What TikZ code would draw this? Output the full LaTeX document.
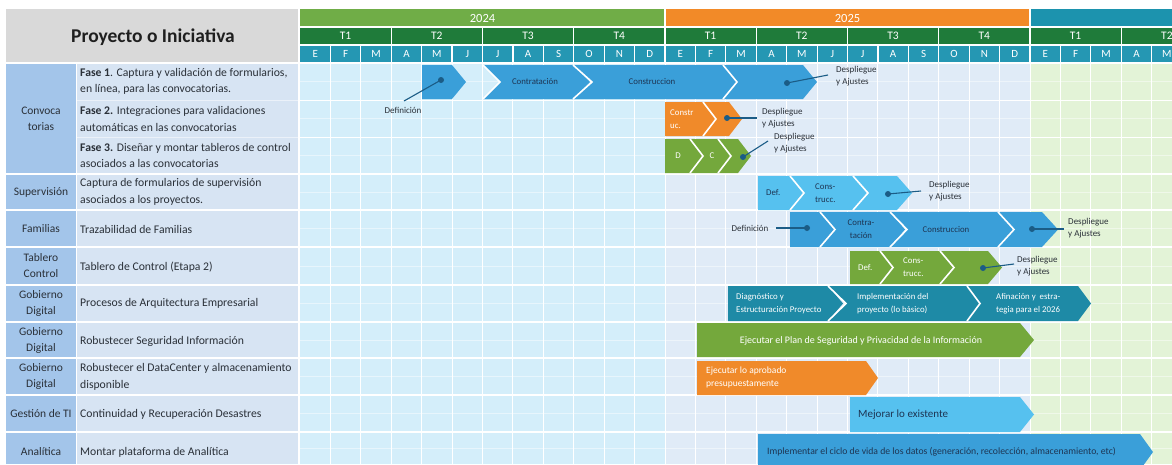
\documentclass[tikz,border=0pt]{standalone}
\usepackage{fontspec}
\setmainfont{Carlito}
\definecolor{yA}{HTML}{70AD47}
\definecolor{yB}{HTML}{F28A28}
\definecolor{yC}{HTML}{1C93AE}
\definecolor{qrow}{HTML}{1F7B3A}
\definecolor{mrow}{HTML}{2597B3}
\definecolor{hgrey}{HTML}{D9D9D9}
\definecolor{catc}{HTML}{A3C5EA}
\definecolor{descc}{HTML}{D7E4F3}
\definecolor{gA}{HTML}{D4EEFA}
\definecolor{gB}{HTML}{E0EBF7}
\definecolor{gC}{HTML}{E3F3D7}
\definecolor{bBlue}{HTML}{3A9FD9}
\definecolor{bLight}{HTML}{56C1EF}
\definecolor{bTeal}{HTML}{1E8AA6}
\definecolor{bGreen}{HTML}{74A83C}
\definecolor{bOrange}{HTML}{F08A2A}
\definecolor{dotc}{HTML}{1B5C86}
\definecolor{txt}{HTML}{2A3038}
\definecolor{btxt}{HTML}{1E3553}
\newcommand\segF[6]{\fill[#1] (#2,#5) -- (#3,#5) -- (#4,{(#5+#6)/2}) -- (#3,#6) -- (#2,#6) -- cycle;}
\newcommand\segN[6]{\fill[#1] (#2,#5) -- (#3,#5) -- (#4,{(#5+#6)/2}) -- (#3,#6) -- (#2,#6) -- ({#2+#4-#3},{(#5+#6)/2}) -- cycle;
  \draw[white,line width=1.6pt] (#2,#5) -- ({#2+#4-#3},{(#5+#6)/2}) -- (#2,#6);}
\tikzset{
  cat/.style={font=\fontsize{11.5}{16}\selectfont, text=txt, align=center},
  desc/.style={font=\fontsize{11.7}{16.5}\selectfont, text=txt, align=left, anchor=west, inner sep=0pt},
  hd/.style={font=\fontsize{12.5}{14}\selectfont, text=white},
  bt/.style={font=\fontsize{8.8}{12.8}\selectfont, text=white, align=left, inner sep=0pt},
  btd/.style={font=\fontsize{8.8}{12.8}\selectfont, text=btxt, align=left, inner sep=0pt},
  lbl/.style={font=\fontsize{9}{12}\selectfont, text=txt, align=left, inner sep=0pt},
  dot/.style={circle, fill=dotc, inner sep=0pt, minimum size=6pt},
  callout/.style={draw=dotc, line width=1.1pt},
  sep/.style={white, line width=1.2pt}
}
\begin{document}
\begin{tikzpicture}[x=1pt,y=-1pt]
\useasboundingbox (0,0) rectangle (1172,464);
\clip (0,0) rectangle (1172,464);
% ---------- header ----------
\fill[hgrey] (6,9) rectangle (298,63);
\node[font=\fontsize{19.5}{22}\selectfont\bfseries, text=black!88] (title) at (153,37) {Proyecto o Iniciativa};
\fill[yA] (300,9) rectangle (665,27);
\fill[yB] (665,9) rectangle (1030,27);
\fill[yC] (1030,9) rectangle (1172,27);
\node[hd] (y24) at (482.5,18) {2024};
\node[hd] (y25) at (847.5,18) {2025};
\fill[qrow] (300,27) rectangle (1172,45);
\fill[mrow] (300,45) rectangle (1172,63);
\foreach \q [count=\i from 0] in {T1,T2,T3,T4,T1,T2,T3,T4,T1,T2}
  \node[hd, font=\fontsize{11.5}{13}\selectfont] (q\i) at ({300+91.25*\i+45.6},36) {\q};
\foreach \m [count=\i from 0] in {E,F,M,A,M,J,J,A,S,O,N,D,E,F,M,A,M,J,J,A,S,O,N,D,E,F,M,A,M}
  \node[hd, font=\fontsize{11}{13}\selectfont] (m\i) at ({300+30.417*\i+15.2},54) {\m};
\foreach \i in {1,...,28} \draw[sep] ({300+30.417*\i},45) -- ({300+30.417*\i},63);
\foreach \i in {1,...,9} \draw[sep] ({300+91.25*\i},27) -- ({300+91.25*\i},45);
\draw[sep] (665,9) -- (665,27);
\draw[sep] (1030,9) -- (1030,27);
\draw[sep] (300,27) -- (1172,27);
\draw[sep] (300,45) -- (1172,45);
% ---------- body backgrounds ----------
\fill[catc] (6,63) rectangle (76,464);
\fill[descc] (77,63) rectangle (298,464);
\fill[gA] (300,63) rectangle (665,464);
\fill[gB] (665,63) rectangle (1030,464);
\fill[gC] (1030,63) rectangle (1172,464);
\foreach \i in {1,...,28} \draw[white, line width=0.9pt] ({300+30.417*\i},63) -- ({300+30.417*\i},464);
\foreach \y in {81.5,118.5,155.5,192,228.5,266,303.5,340,376.5,413.5,448}
  \draw[white, opacity=0.45, line width=0.5pt] (300,\y) -- (1172,\y);
\foreach \y in {100,137} \draw[white, line width=0.9pt] (300,\y) -- (1172,\y);
\foreach \y in {63,174,210,247,285,322,358,395,432} \draw[white, line width=1.2pt] (6,\y) -- (1172,\y);
\foreach \y in {100,137} \draw[white, opacity=0.5, line width=0.6pt] (77,\y) -- (298,\y);
\draw[white, line width=1.2pt] (76.5,63) -- (76.5,464);
\draw[white, line width=1.5pt] (299,63) -- (299,464);
% ---------- left columns ----------
\node[cat] (c1) at (41,119) {Convoca\\torias};
\node[cat] (c2) at (41,192) {Supervisión};
\node[cat] (c3) at (41,229) {Familias};
\node[cat] (c4) at (41,266) {Tablero\\Control};
\node[cat] (c5) at (41,303) {Gobierno\\Digital};
\node[cat] (c6) at (41,340) {Gobierno\\Digital};
\node[cat] (c7) at (41,376.5) {Gobierno\\Digital};
\node[cat] (c8) at (41,413.5) {Gestión de TI};
\node[cat] (c9) at (41,452) {Analítica};
\node[desc] (d1) at (80,81.5) {\textbf{Fase 1}. Captura y validación de formularios,\\en línea, para las convocatorias.};
\node[desc] (d2) at (80,119) {\textbf{Fase 2.} Integraciones para validaciones\\automáticas en las convocatorias};
\node[desc] (d3) at (80,155.5) {\textbf{Fase 3.} Diseñar y montar tableros de control\\asociados a las convocatorias};
\node[desc] (d4) at (80,192) {Captura de formularios de supervisión\\asociados a los proyectos.};
\node[desc] (d5) at (80,229) {Trazabilidad de Familias};
\node[desc] (d6) at (80,267) {Tablero de Control (Etapa 2)};
\node[desc] (d7) at (80,303) {Procesos de Arquitectura Empresarial};
\node[desc] (d8) at (80,341) {Robustecer Seguridad Información};
\node[desc] (d9) at (80,377) {Robustecer el DataCenter y almacenamiento\\disponible};
\node[desc] (d10) at (80,414) {Continuidad y Recuperación Desastres};
\node[desc] (d11) at (80,452) {Montar plataforma de Analítica};
% ---------- Row 1: Fase 1 ----------
\segF{bBlue}{422}{452}{466}{65}{99}
\segN{bBlue}{483}{573}{590}{65}{99}
\segN{bBlue}{573}{723}{742}{65}{99}
\segN{bBlue}{723}{803}{817}{65}{99}
\node[btd, anchor=center] (t1b) at (535,82) {Contratación};
\node[btd, anchor=center] (t1c) at (652,82) {Construccion};
\node[dot] (p1a) at (441,80) {};
\coordinate (e1a) at (404,101);
\node[lbl, anchor=center] (l1a) at (403,110.5) {Definición};
\draw[callout] (p1a.center) -- (e1a);
\node[dot] (p1d) at (787,83) {};
\coordinate (e1d) at (828,75);
\node[lbl, anchor=west] (l1d) at (836,76) {Despliegue\\y Ajustes};
\draw[callout] (p1d.center) -- (e1d);
% ---------- Row 2: Fase 2 ----------
\segF{bOrange}{665}{703}{718}{102}{136}
\segN{bOrange}{703}{729}{742}{102}{136}
\node[bt, anchor=west] (t2a) at (670,119) {Constr\\uc.};
\node[dot] (p2) at (727,118) {};
\coordinate (e2) at (757,118);
\node[lbl, anchor=west] (l2) at (762,118) {Despliegue\\y Ajustes};
\draw[callout] (p2.center) -- (e2);
% ---------- Row 3: Fase 3 ----------
\segF{bGreen}{665}{690}{703}{139}{173}
\segN{bGreen}{690}{718}{731}{139}{173}
\segN{bGreen}{718}{738}{751}{139}{173}
\node[bt, anchor=center] (t3a) at (678,156) {D};
\node[bt, anchor=center] (t3b) at (712,156) {C};
\node[dot] (p3) at (743,157) {};
\coordinate (e3) at (768,141);
\node[lbl, anchor=west] (l3) at (774,143) {Despliegue\\y Ajustes};
\draw[callout] (p3.center) -- (e3);
% ---------- Row 4: Supervision ----------
\segF{bLight}{758}{790}{803}{176}{210}
\segN{bLight}{790}{853}{867}{176}{210}
\segN{bLight}{853}{897}{912}{176}{210}
\node[btd, anchor=west] (t4a) at (766,193) {Def.};
\node[btd, anchor=west] (t4b) at (815,193) {Cons-\\trucc.};
\node[dot] (p4) at (888,194) {};
\coordinate (e4) at (921,191);
\node[lbl, anchor=west] (l4) at (929,191) {Despliegue\\y Ajustes};
\draw[callout] (p4.center) -- (e4);
% ---------- Row 5: Familias ----------
\segF{bBlue}{790}{820}{835}{212}{247}
\segN{bBlue}{820}{890}{905}{212}{247}
\segN{bBlue}{890}{998}{1015}{212}{247}
\segN{bBlue}{998}{1042}{1058}{212}{247}
\node[btd, anchor=center, align=center] (t5b) at (861,229) {Contra-\\tación};
\node[btd, anchor=center] (t5c) at (946,229) {Construccion};
\node[lbl, anchor=center] (l5a) at (750,228) {Definición};
\node[dot] (p5a) at (807,228) {};
\coordinate (e5a) at (776,228);
\draw[callout] (e5a) -- (p5a.center);
\node[dot] (p5d) at (1032,229) {};
\coordinate (e5d) at (1064,229);
\node[lbl, anchor=west] (l5d) at (1068,228) {Despliegue\\y Ajustes};
\draw[callout] (p5d.center) -- (e5d);
% ---------- Row 6: Tablero ----------
\segF{bGreen}{850}{880}{893}{251}{284}
\segN{bGreen}{880}{940}{953}{251}{284}
\segN{bGreen}{940}{988}{1002}{251}{284}
\node[bt, anchor=west] (t6a) at (858,268) {Def.};
\node[bt, anchor=west] (t6b) at (903,267) {Cons-\\trucc.};
\node[dot] (p6) at (983,268) {};
\coordinate (e6) at (1014,264);
\node[lbl, anchor=west] (l6) at (1017,266) {Despliegue\\y Ajustes};
\draw[callout] (p6.center) -- (e6);
% ---------- Row 7: Procesos ----------
\segF{bTeal}{728}{828}{843}{286}{321}
\segN{bTeal}{828}{967}{985}{286}{321}
\segN{bTeal}{967}{1078}{1091}{286}{321}
\node[bt, anchor=west] (t7a) at (736,303.5) {Diagnóstico y\\Estructuración Proyecto};
\node[bt, anchor=west] (t7b) at (857,303.5) {Implementación del\\proyecto (lo básico)};
\node[bt, anchor=west] (t7c) at (996,303.5) {Afinación y~ estra-\\tegia para el 2026};
% ---------- Row 8: Seguridad ----------
\segF{bGreen}{697}{1020}{1034}{323}{357}
\node[bt, anchor=center, font=\fontsize{10}{12}\selectfont] (t8) at (861,341) {Ejecutar el Plan de Seguridad y Privacidad de la Información};
% ---------- Row 9: DataCenter ----------
\segF{bOrange}{697}{866}{878}{361}{395}
\node[bt, anchor=west, font=\fontsize{9.5}{13}\selectfont] (t9) at (706,377) {Ejecutar lo aprobado\\presupuestamente};
% ---------- Row 10: Gestion ----------
\segF{bLight}{850}{1020}{1034}{397}{432}
\node[btd, anchor=west, font=\fontsize{11}{13}\selectfont] (t10) at (858,415) {Mejorar lo existente};
% ---------- Row 11: Analitica ----------
\segF{bBlue}{758}{1140}{1153}{434}{470}
\node[btd, anchor=west, font=\fontsize{9.7}{12}\selectfont] (t11) at (767,452) {Implementar el ciclo de vida de los datos (generación, recolección, almacenamiento, etc)};
\end{tikzpicture}
\end{document}
